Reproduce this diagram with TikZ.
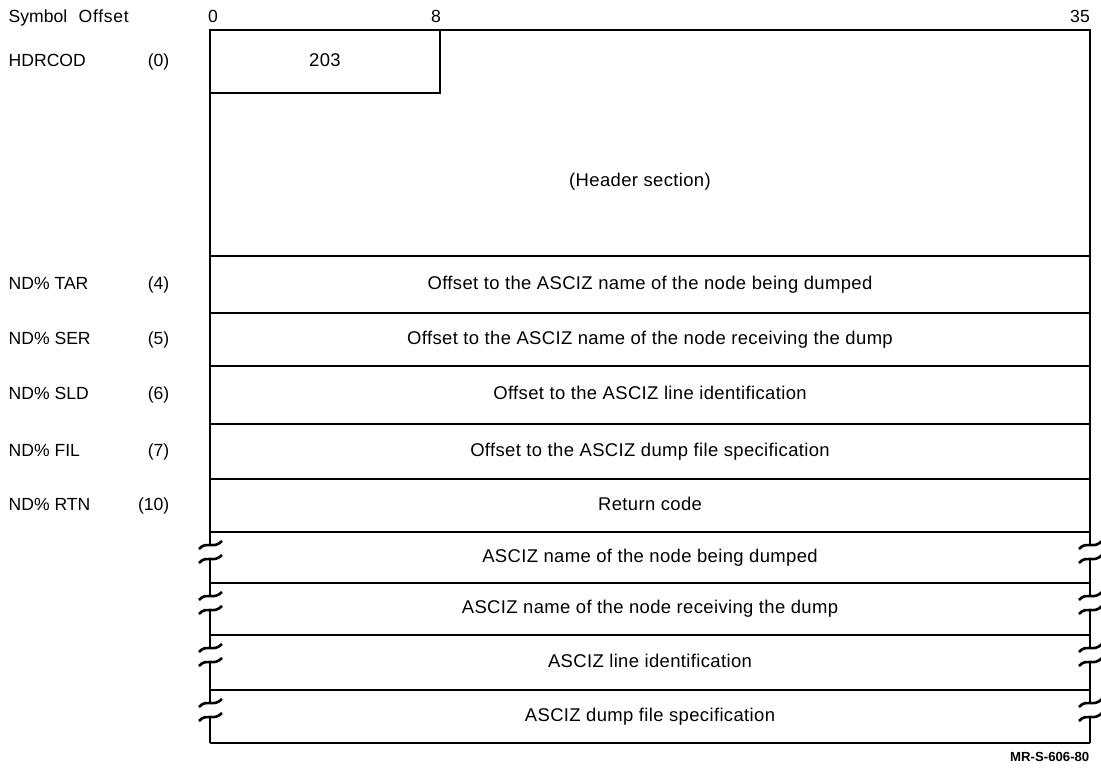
\documentclass[tikz,border=0pt]{standalone}
\usepackage{fontspec}
\setmainfont{Liberation Sans}
\usetikzlibrary{positioning}
\tikzset{
  lbl/.style={anchor=west,inner sep=0pt},
  off/.style={anchor=east,inner sep=0pt},
  field/.style={inner sep=0pt,font=\fontsize{10.5}{13}\selectfont\addfontfeatures{LetterSpace=2}},
  wave/.pic={\draw[line width=1.5pt] (-11,4) .. controls (-3,-5) and (3,5) .. (12,-4);}
}
\begin{document}
\begin{tikzpicture}[x=0.02cm,y=-0.02cm,font=\fontsize{10}{12}\selectfont,line width=0.8pt,
  every node/.append style={text height=7.5pt,text depth=2pt}]
\useasboundingbox (0,0) rectangle (1101,767);
% column heads
\node[lbl] (symh) at (8,18){Symbol};
\node[lbl,font=\fontsize{10}{12}\selectfont\addfontfeatures{LetterSpace=4}] (offh) at (78,18){Offset};
\node (b0) at (213,18){0};
\node (b8) at (436,18){8};
\node (b35) at (1080,18){35};
% header block
\draw (210,30) rectangle (1090,256);
\draw (210,30) rectangle (440,93);
\node[field] (code) at (325,62){203};
\node[field] (hdr) at (640,182){(Header section)};
\node[lbl] (hdrcod) at (8,62){HDRCOD};
\node[off] at (170,62){(0)};
% fixed words
\foreach \t/\b/\sym/\o/\txt [count=\i] in {
  256/313/{ND\% TAR}/(4)/{Offset to the ASCIZ name of the node being dumped},
  313/366/{ND\% SER}/(5)/{Offset to the ASCIZ name of the node receiving the dump},
  366/424/{ND\% SLD}/(6)/{Offset to the ASCIZ line identification},
  424/479/{ND\% FIL}/(7)/{Offset to the ASCIZ dump file specification},
  479/532/{ND\% RTN}/(10)/{Return code}}{
 \draw (210,\t) rectangle (1090,\b);
 \node[field] (w\i) at (650,{(\t+\b)/2}){\txt};
 \node[lbl] (s\i) at (8,{(\t+\b)/2}){\sym};
 \node[off] (o\i) at (170,{(\t+\b)/2}){\o};
}
% strings, open at the sides
\foreach \t/\b/\txt [count=\i] in {
  532/583/{ASCIZ name of the node being dumped},
  583/635/{ASCIZ name of the node receiving the dump},
  635/690/{ASCIZ line identification},
  690/743/{ASCIZ dump file specification}}{
 \draw (210,\t) -- (1090,\t);
 \node[field] (a\i) at (650,{(\t+\b)/2}){\txt};
 \foreach \x in {210,1090}{
  \draw (\x,\t) -- (\x,\t+13);
  \draw (\x,\t+27) -- (\x,\b);
  \pic at (\x,\t+13) {wave};
  \pic at (\x,\t+27) {wave};
 }
}
\draw (210,743) -- (1090,743);
\node[anchor=east,inner sep=0pt,font=\fontsize{7.5}{9}\selectfont\bfseries] (fig) at (1090,757){MR-S-606-80};
\end{tikzpicture}
\end{document}
